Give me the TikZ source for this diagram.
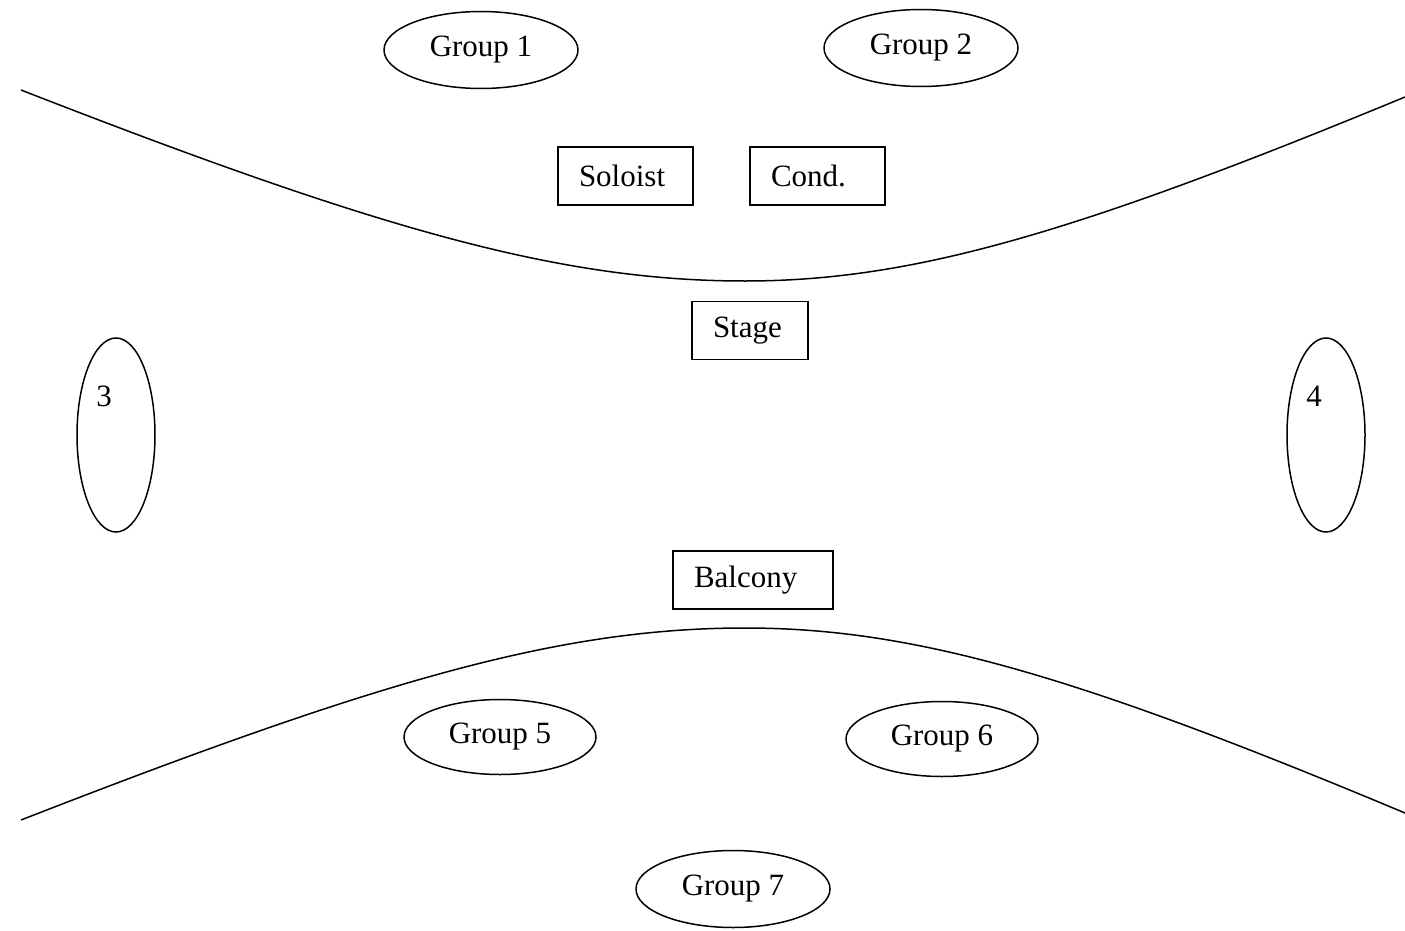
\documentclass[tikz,border=0pt]{standalone}
\usepackage{fontspec}
\setmainfont{Liberation Serif}
\usetikzlibrary{shapes.geometric}
\begin{document}
\begin{tikzpicture}[x=1pt,y=-1pt,
  every node/.style={font=\fontsize{31}{35}\selectfont},
  grp/.style={draw,ellipse,line width=1.5pt,minimum width=194pt,minimum height=77pt,inner sep=0pt},
  side/.style={draw,ellipse,line width=1.5pt,minimum width=78pt,minimum height=194pt,inner sep=0pt},
  boxed/.style={draw,line width=1.5pt,minimum height=58pt,inner xsep=21pt,align=left},
  curve/.style={line width=1.5pt}]
\useasboundingbox (0,0) rectangle (1405,931);
% curves
\draw[curve] (21,90) .. controls (380,230) and (560,281) .. (745,281)
   .. controls (914,281) and (1078,232) .. (1405,97);
\draw[curve] (21,820) .. controls (380,680) and (560,628) .. (745,628)
   .. controls (914,628) and (1078,676) .. (1405,813);
% groups
\node[grp] (g1) at (481,50) {Group 1};
\node[grp] (g2) at (921,48) {Group 2};
\node[grp,minimum width=192pt,minimum height=75pt] (g5) at (500,737) {Group 5};
\node[grp,minimum width=192pt,minimum height=75pt] (g6) at (942,739) {Group 6};
\node[grp] (g7) at (733,889) {Group 7};
% side ellipses
\node[side] (e3) at (116,435) {};
\node (t3) at (104,396) {3};
\node[side] (e4) at (1326,435) {};
\node (t4) at (1314,396) {4};
% boxes
\node[boxed,text width=93pt] (sol) at (625.5,176) {Soloist};
\node[boxed,text width=93pt] (cond) at (817.5,176) {Cond.};
\node[boxed,text width=74pt] (stage) at (750,330.5) {Stage};
\node[boxed,text width=118pt] (balc) at (753,580) {Balcony};
\end{tikzpicture}
\end{document}
